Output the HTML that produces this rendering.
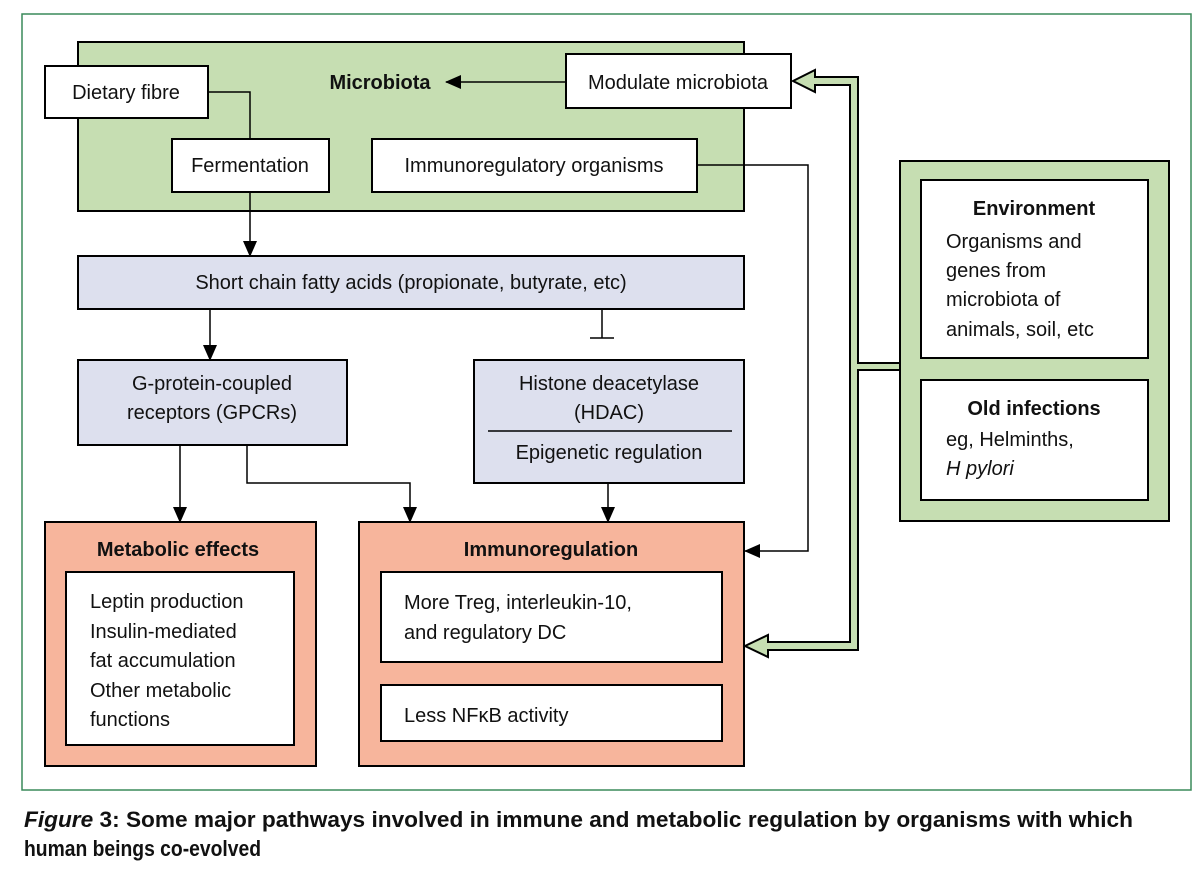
<!DOCTYPE html>
<html><head><meta charset="utf-8"><style>
body{margin:0;background:#fff}
svg text{font-family:"Liberation Sans",sans-serif;fill:#111}
</style></head><body>
<svg width="1200" height="867" viewBox="0 0 1200 867" xmlns="http://www.w3.org/2000/svg">
<defs>
<marker id="b" markerWidth="16" markerHeight="14" refX="15" refY="7" orient="auto" markerUnits="userSpaceOnUse"><path d="M0,0 L16,7 L0,14 z" fill="#000"/></marker></defs>
<rect x="22" y="14" width="1169" height="776" fill="none" stroke="#3a8a5a" stroke-width="1.5"/>
<g stroke="#000" stroke-width="2">
<rect x="78" y="42" width="666" height="169" fill="#c6deb2"/>
<rect x="45" y="66" width="163" height="52" fill="#fff"/>
<rect x="566" y="54" width="225" height="54" fill="#fff"/>
<rect x="172" y="139" width="157" height="53" fill="#fff"/>
<rect x="372" y="139" width="325" height="53" fill="#fff"/>
<rect x="78" y="256" width="666" height="53" fill="#dde0ee"/>
<rect x="78" y="360" width="269" height="85" fill="#dde0ee"/>
<rect x="474" y="360" width="270" height="123" fill="#dde0ee"/>
<rect x="900" y="161" width="269" height="360" fill="#c6deb2"/>
<rect x="921" y="180" width="227" height="178" fill="#fff"/>
<rect x="921" y="380" width="227" height="120" fill="#fff"/>
<rect x="45" y="522" width="271" height="244" fill="#f7b59c"/>
<rect x="66" y="572" width="228" height="173" fill="#fff"/>
<rect x="359" y="522" width="385" height="244" fill="#f7b59c"/>
<rect x="381" y="572" width="341" height="90" fill="#fff"/>
<rect x="381" y="685" width="341" height="56" fill="#fff"/>
</g>
<g stroke="#000" stroke-width="1.5" fill="none">
<line x1="488" y1="431" x2="732" y2="431"/>
<polyline points="208,92 250,92 250,139"/>
<line x1="250" y1="192" x2="250" y2="256" marker-end="url(#b)"/>
<line x1="210" y1="309" x2="210" y2="360" marker-end="url(#b)"/>
<line x1="602" y1="309" x2="602" y2="338"/>
<line x1="590" y1="338" x2="614" y2="338"/>
<line x1="566" y1="82" x2="446" y2="82" marker-end="url(#b)"/>
<polyline points="697,165 808,165 808,551 745,551" marker-end="url(#b)"/>
<line x1="180" y1="445" x2="180" y2="522" marker-end="url(#b)"/>
<polyline points="247,445 247,483 410,483 410,522" marker-end="url(#b)"/>
<line x1="608" y1="483" x2="608" y2="522" marker-end="url(#b)"/>
</g>
<polygon points="793,81 815,70 815,77 858,77 858,363 900,363 900,370 858,370 858,650 768,650 768,657 745,646 768,635 768,642 850,642 850,85 815,85 815,92" fill="#c6deb2" stroke="#000" stroke-width="2"/>
<g font-size="20">
<text x="380" y="89" font-weight="bold" text-anchor="middle">Microbiota</text>
<text x="126" y="99" text-anchor="middle">Dietary fibre</text>
<text x="678" y="89" text-anchor="middle">Modulate microbiota</text>
<text x="250" y="172" text-anchor="middle">Fermentation</text>
<text x="534" y="172" text-anchor="middle">Immunoregulatory organisms</text>
<text x="411" y="289" text-anchor="middle">Short chain fatty acids (propionate, butyrate, etc)</text>
<text x="212" y="390" text-anchor="middle">G-protein-coupled</text>
<text x="212" y="419" text-anchor="middle">receptors (GPCRs)</text>
<text x="609" y="390" text-anchor="middle">Histone deacetylase</text>
<text x="609" y="419" text-anchor="middle">(HDAC)</text>
<text x="609" y="459" text-anchor="middle">Epigenetic regulation</text>
<text x="1034" y="215" font-weight="bold" text-anchor="middle">Environment</text>
<text x="946" y="248">Organisms and</text>
<text x="946" y="277">genes from</text>
<text x="946" y="306">microbiota of</text>
<text x="946" y="336">animals, soil, etc</text>
<text x="1034" y="415" font-weight="bold" text-anchor="middle">Old infections</text>
<text x="946" y="446">eg, Helminths,</text>
<text x="946" y="475" font-style="italic">H pylori</text>
<text x="178" y="556" font-weight="bold" text-anchor="middle">Metabolic effects</text>
<text x="90" y="608">Leptin production</text>
<text x="90" y="638">Insulin-mediated</text>
<text x="90" y="667">fat accumulation</text>
<text x="90" y="697">Other metabolic</text>
<text x="90" y="726">functions</text>
<text x="551" y="556" font-weight="bold" text-anchor="middle">Immunoregulation</text>
<text x="404" y="609">More Treg, interleukin-10,</text>
<text x="404" y="639">and regulatory DC</text>
<text x="404" y="722">Less NFκB activity</text>
</g>
<g font-size="22" font-weight="bold">
<text x="24" y="827" textLength="1109" lengthAdjust="spacingAndGlyphs"><tspan font-style="italic">Figure</tspan> 3: Some major pathways involved in immune and metabolic regulation by organisms with which</text>
<text x="24" y="856" textLength="237" lengthAdjust="spacingAndGlyphs">human beings co-evolved</text>
</g>
</svg>
</body></html>
